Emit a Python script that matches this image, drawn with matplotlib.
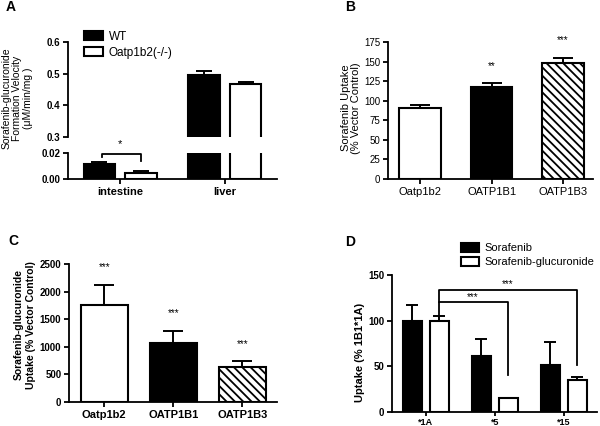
import matplotlib
matplotlib.use("Agg")
import matplotlib.pyplot as plt
import numpy as np

plt.rcParams['font.family'] = ['Liberation Sans', 'DejaVu Sans']
plt.rcParams['hatch.linewidth'] = 1.3

# ---------------- data ----------------
# Panel A
a_groups = ["intestine", "liver"]
a_wt = [0.0115, 0.497]
a_wt_err = [0.0013, 0.010]
a_ko = [0.0048, 0.467]
a_ko_err = [0.0010, 0.006]
a_series = ["WT", "Oatp1b2(-/-)"]

# Panel B
b_cats = ["Oatp1b2", "OATP1B1", "OATP1B3"]
b_vals = [91, 118, 148]
b_err = [4, 4.5, 6.5]
b_sig = ["", "**", "***"]

# Panel C
c_cats = ["Oatp1b2", "OATP1B1", "OATP1B3"]
c_vals = [1750, 1070, 640]
c_err = [370, 220, 100]
c_sig = ["***", "***", "***"]

# Panel D
d_cats = ["*1A", "*5", "*15"]
d_sor = [100, 61, 51]
d_sor_err = [17, 19, 26]
d_glu = [100, 15, 35]
d_glu_err = [5, 0.6, 3.5]
d_series = ["Sorafenib", "Sorafenib-glucuronide"]

W, H = 600, 426
fig = plt.figure(figsize=(W / 100, H / 100), dpi=100)


def add_ax(x0, y0, x1, y1):
    return fig.add_axes([x0 / W, 1 - y1 / H, (x1 - x0) / W, (y1 - y0) / H])


def style(ax, bottom=True, bold=True, fs=7):
    ax.spines['top'].set_visible(False)
    ax.spines['right'].set_visible(False)
    ax.spines['left'].set_linewidth(1.3)
    ax.spines['bottom'].set_linewidth(1.3)
    if not bottom:
        ax.spines['bottom'].set_visible(False)
        ax.tick_params(axis='x', bottom=False, labelbottom=False)
    ax.tick_params(axis='both', width=1.3, length=3.5, labelsize=fs, pad=2)
    w = 'bold' if bold else 'normal'
    for lab in ax.get_xticklabels() + ax.get_yticklabels():
        lab.set_fontweight(w)


def errb(ax, x, v, e, cap=6):
    ax.errorbar(x, v, yerr=[np.zeros(len(e)), e], fmt='none', ecolor='black',
                elinewidth=1.4, capsize=cap, capthick=1.4, zorder=1)


bar_kw = dict(edgecolor='black', linewidth=1.5, zorder=2)

# ---------------- Panel A ----------------
axA_top = add_ax(68, 42, 277, 137)
axA_bot = add_ax(68, 153, 277, 179)
xa = np.arange(len(a_groups)) * 2 + 1.0
off, wa = 0.4, 0.6
for ax in (axA_top, axA_bot):
    hwt = ax.bar(xa - off, a_wt, wa, color='black', label=a_series[0], **bar_kw)
    hko = ax.bar(xa + off, a_ko, wa, color='white', label=a_series[1], **bar_kw)
    errb(ax, xa - off, a_wt, a_wt_err, cap=6)
    errb(ax, xa + off, a_ko, a_ko_err, cap=6)
    ax.set_xlim(0, 4)
axA_top.set_ylim(0.3, 0.6)
axA_top.set_yticks([0.3, 0.4, 0.5, 0.6])
axA_top.set_yticklabels(["0.3", "0.4", "0.5", "0.6"])
axA_bot.set_ylim(0, 0.02)
axA_bot.set_yticks([0.0, 0.02])
axA_bot.set_yticklabels(["0.00", "0.02"])
axA_bot.set_xticks(xa)
axA_bot.set_xticklabels(a_groups)
style(axA_top, bottom=False)
style(axA_bot)
for lab in axA_bot.get_xticklabels():
    lab.set_fontsize(8)
# significance bracket
yb = 0.0192
axA_bot.plot([xa[0] - off + 0.05, xa[0] - off + 0.05, xa[0] + off, xa[0] + off],
             [0.017, yb, yb, 0.0138], color='black', lw=1.3, clip_on=False)
axA_bot.text(xa[0], 0.0265, "*", ha='center', va='center', fontsize=8, clip_on=False)
axA_top.legend(handles=[hwt, hko], loc='upper left', bbox_to_anchor=(84 / W, 1 - 31 / H),
               bbox_transform=fig.transFigure, frameon=False, fontsize=8.5,
               handlelength=1.6, handleheight=0.8, handletextpad=0.5, labelspacing=0.3,
               borderpad=0, borderaxespad=0)
fig.text(17 / W, 1 - 98 / H, "Sorafenib-glucuronide\nFormation Velocity\n(\u03bcM/min/mg )",
         rotation=90, ha='center', va='center', fontsize=7.5, linespacing=1.1,
         multialignment='center')
fig.text(6 / W, 1 - 7 / H, "A", fontsize=10, fontweight='bold', ha='left', va='center')

# ---------------- Panel B ----------------
axB = add_ax(388, 42, 593, 179)
xb = np.arange(len(b_cats))
wb = 0.58
hatch_b = [None, None, '\\\\\\\\']
colors_b = ['white', 'black', 'white']
for i in range(len(b_cats)):
    axB.bar(xb[i], b_vals[i], wb, color=colors_b[i], hatch=hatch_b[i], **bar_kw)
errb(axB, xb, b_vals, b_err, cap=7)
for i in range(len(b_cats)):
    if b_sig[i]:
        axB.annotate(b_sig[i], (xb[i], b_vals[i] + b_err[i]), xytext=(0, 9),
                     textcoords='offset points', ha='center', va='bottom', fontsize=7)
axB.set_xlim(-0.45, 2.42)
axB.set_ylim(0, 175)
axB.set_yticks(np.arange(0, 176, 25))
axB.set_xticks(xb)
axB.set_xticklabels(b_cats)
style(axB, bold=False, fs=7)
for lab in axB.get_xticklabels():
    lab.set_fontsize(8)
fig.text(351 / W, 1 - 108 / H, "Sorafenib Uptake\n(% Vector Control)", rotation=90,
         ha='center', va='center', fontsize=8, linespacing=1.1, multialignment='center')
fig.text(345 / W, 1 - 7 / H, "B", fontsize=10, fontweight='bold', ha='left', va='center')

# ---------------- Panel C ----------------
axC = add_ax(69, 264, 277, 402)
xc = np.arange(len(c_cats))
wc = 0.68
colors_c = ['white', 'black', 'white']
hatch_c = [None, None, '\\\\\\\\']
for i in range(len(c_cats)):
    axC.bar(xc[i], c_vals[i], wc, color=colors_c[i], hatch=hatch_c[i], **bar_kw)
errb(axC, xc, c_vals, c_err, cap=7)
for i in range(len(c_cats)):
    axC.annotate(c_sig[i], (xc[i], c_vals[i] + c_err[i]), xytext=(0, 9),
                 textcoords='offset points', ha='center', va='bottom', fontsize=7)
axC.set_xlim(-0.51, 2.5)
axC.set_ylim(0, 2500)
axC.set_yticks(np.arange(0, 2501, 500))
axC.set_xticks(xc)
axC.set_xticklabels(c_cats)
style(axC)
for lab in axC.get_xticklabels():
    lab.set_fontsize(8)
fig.text(25 / W, 1 - 325 / H, "Sorafenib-glucuronide\nUptake (% Vector Control)", rotation=90,
         ha='center', va='center', fontsize=7.5, linespacing=1.3, multialignment='center',
         fontweight='bold')
fig.text(8 / W, 1 - 241 / H, "C", fontsize=10, fontweight='bold', ha='left', va='center')

# ---------------- Panel D ----------------
axD = add_ax(392, 275, 597, 412)
xd = np.arange(len(d_cats))
od, wd = 0.195, 0.28
h1 = axD.bar(xd - od, d_sor, wd, color='black', label=d_series[0], **bar_kw)
h2 = axD.bar(xd + od, d_glu, wd, color='white', label=d_series[1], **bar_kw)
errb(axD, xd - od, d_sor, d_sor_err, cap=4.5)
errb(axD, xd + od, d_glu, d_glu_err, cap=4.5)
# brackets
top0 = d_glu[0] + d_glu_err[0]
axD.plot([xd[0] + od, xd[0] + od, xd[1] + od, xd[1] + od],
         [top0, 120.5, 120.5, 40.5], color='black', lw=1.3, clip_on=False)
axD.plot([xd[0] + od, xd[0] + od, xd[2] + od, xd[2] + od],
         [120.5, 133.5, 133.5, 51.5], color='black', lw=1.3, clip_on=False)
axD.text((xd[0] + xd[1]) / 2 + od - 0.02, 126, "***", ha='center', va='center', fontsize=7)
axD.text((xd[0] + xd[2]) / 2 + od - 0.01, 140, "***", ha='center', va='center', fontsize=7)
axD.set_xlim(-0.49, 2.48)
axD.set_ylim(0, 150)
axD.set_yticks([0, 50, 100, 150])
axD.set_xticks(xd)
axD.set_xticklabels(d_cats)
style(axD)
axD.tick_params(axis='x', length=3, pad=1)
for lab in axD.get_xticklabels():
    lab.set_fontsize(6.5)
axD.legend(handles=[h1, h2], loc='upper left', bbox_to_anchor=(461 / W, 1 - 243 / H),
           bbox_transform=fig.transFigure, frameon=False, fontsize=8,
           handlelength=1.6, handleheight=0.8, handletextpad=0.5, labelspacing=0.35,
           borderpad=0, borderaxespad=0)
fig.text(360 / W, 1 - 352 / H, "Uptake (% 1B1*1A)", rotation=90, ha='center', va='center',
         fontsize=8, fontweight='bold')
fig.text(345 / W, 1 - 242 / H, "D", fontsize=10, fontweight='bold', ha='left', va='center')

fig.savefig("out.png", dpi=100)
